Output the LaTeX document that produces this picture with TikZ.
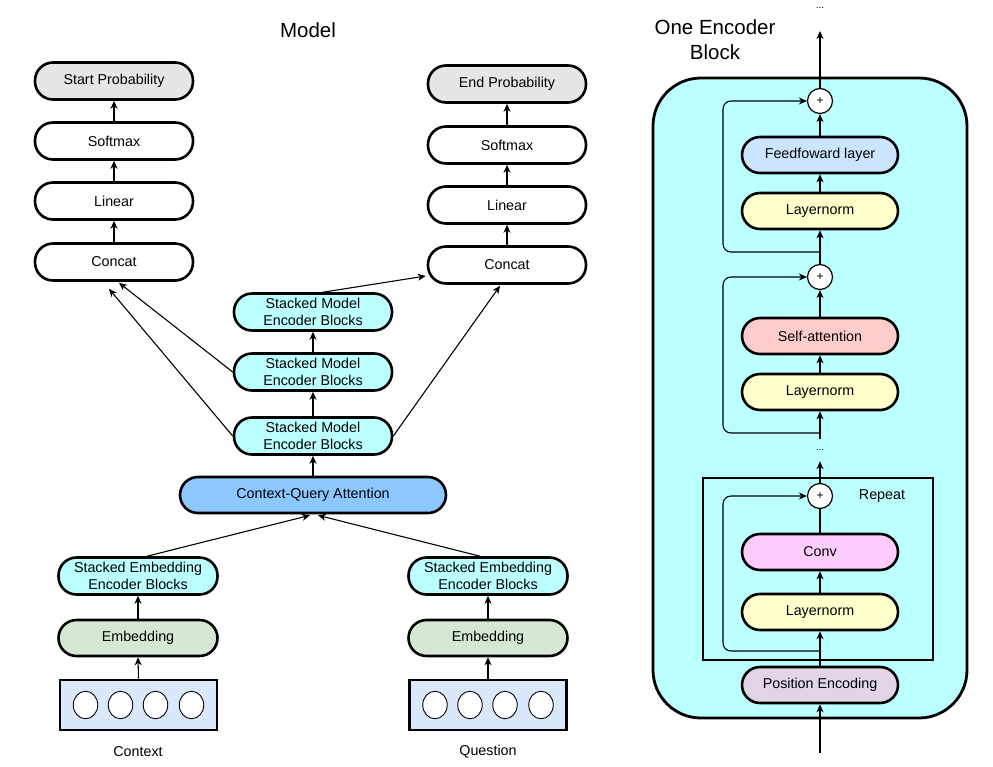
\documentclass[tikz,border=0pt]{standalone}
\usepackage{fontspec}
\setmainfont{Liberation Sans}
\usetikzlibrary{arrows.meta,calc,shapes.geometric}
\definecolor{cyanbg}{RGB}{187,255,255}
\definecolor{cqablue}{RGB}{140,200,255}
\definecolor{embgreen}{RGB}{213,232,212}
\definecolor{inblue}{RGB}{218,232,252}
\definecolor{probgray}{RGB}{230,230,230}
\definecolor{ffblue}{RGB}{204,229,255}
\definecolor{lnyellow}{RGB}{255,255,204}
\definecolor{sared}{RGB}{255,204,204}
\definecolor{convpink}{RGB}{255,204,255}
\definecolor{pelilac}{RGB}{225,213,231}
\begin{document}
\begin{tikzpicture}[x=1pt,y=-1pt,
  box/.style={draw, line width=2.6pt, rounded corners=18pt, minimum width=158pt,
    minimum height=37pt, inner sep=0pt, align=center, fill=white,
    font=\fontsize{14.3}{17}\selectfont},
  rbox/.style={box, minimum width=156pt, minimum height=36pt},
  arr/.style={-{Stealth[length=8pt,width=7pt,inset=2.5pt]}, line width=1.1pt},
  ln/.style={line width=1.1pt},
  plusnode/.style={draw, circle, fill=white, line width=1.2pt, minimum size=25pt,
    inner sep=0pt, font=\fontsize{12}{12}\selectfont},
  inbox/.style={draw, line width=2.6pt, fill=inblue, minimum width=157pt,
    minimum height=50pt, inner sep=0pt},
  tok/.style={draw, ellipse, fill=white, line width=0.9pt, minimum width=24.5pt,
    minimum height=27.5pt, inner sep=0pt},
  lbl/.style={font=\fontsize{14.3}{17}\selectfont, inner sep=0pt},
  ttl/.style={font=\fontsize{20.5}{25}\selectfont, align=center, inner sep=0pt},
  dots/.style={font=\fontsize{10}{10}\selectfont, inner sep=0pt}
]
\useasboundingbox (0,0) rectangle (993,766);

% ---------------- Left: Model ----------------
\node[ttl] (model) at (308,30) {Model};

\node[box, fill=probgray] (startp) at (114,81) {Start Probability};
\node[box] (softL) at (114,141) {Softmax};
\node[box] (linL) at (114,201) {Linear};
\node[box] (catL) at (114,262) {Concat};

\node[box, fill=probgray] (endp) at (507,84) {End Probability};
\node[box] (softR) at (507,145) {Softmax};
\node[box] (linR) at (507,205) {Linear};
\node[box] (catR) at (507,265) {Concat};

\node[box, fill=cyanbg] (smtop) at (313,312) {Stacked Model\\Encoder Blocks};
\node[box, fill=cyanbg] (smmid) at (313,372) {Stacked Model\\Encoder Blocks};
\node[box, fill=cyanbg] (smbot) at (313,436) {Stacked Model\\Encoder Blocks};
\node[box, fill=cqablue, minimum width=266pt, minimum height=36pt] (cqa) at (313,495) {Context-Query Attention};

\node[box, fill=cyanbg, minimum width=159pt] (seeL) at (138,576) {Stacked Embedding\\Encoder Blocks};
\node[box, fill=cyanbg, minimum width=159pt] (seeR) at (488,576) {Stacked Embedding\\Encoder Blocks};
\node[box, fill=embgreen, minimum width=159pt, minimum height=36pt] (embL) at (138,638) {Embedding};
\node[box, fill=embgreen, minimum width=159pt, minimum height=36pt] (embR) at (488,638) {Embedding};

\node[inbox] (inL) at (138.5,705) {};
\node[inbox] (inR) at (488,705) {};
\foreach \i/\dx in {1/-53,2/-18,3/17,4/53}{
  \node[tok] (tL\i) at ($(inL.center)+(\dx,0)$) {};
  \node[tok] (tR\i) at ($(inR.center)+(\dx,0)$) {};
}
\node[lbl] (ctx) at (138,752) {Context};
\node[lbl] (qst) at (488,752) {Question};

% connectors left
\draw[arr] (softL) -- (startp);
\draw[arr] (linL) -- (softL);
\draw[arr] (catL) -- (linL);
\draw[arr] (softR) -- (endp);
\draw[arr] (linR) -- (softR);
\draw[arr] (catR) -- (linR);

\draw[arr] (smmid.west) -- ($(catL.south)+(5,1)$);
\draw[arr] (smbot.west) -- ($(catL.south)+(-5,7)$);
\draw[arr] ($(smtop.north)+(10,0)$) -- ($(catR.west)+(-1,11)$);
\draw[arr] (smbot.east) -- ($(catR.south)+(-7,1)$);

\draw[arr] (smmid) -- (smtop);
\draw[arr] (smbot) -- (smmid);
\draw[arr] (cqa) -- (smbot);

\draw[arr] ($(seeL.north)+(9,0)$) -- ($(cqa.south)+(-3,1)$);
\draw[arr] ($(seeR.north)+(-8,0)$) -- ($(cqa.south)+(5,1)$);

\draw[arr] (embL) -- (seeL);
\draw[arr] (embR) -- (seeR);
\draw[arr] (inL.north) -- (embL.south);
\draw[arr] (inR.north) -- (embR.south);

% ---------------- Right: One Encoder Block ----------------
\node[ttl] (enctitle) at (715,40) {One Encoder\\Block};
\node[draw, line width=2.8pt, fill=cyanbg, rounded corners=48pt, minimum width=314pt,
  minimum height=640pt, inner sep=0pt] (encblock) at (810,398) {};
\node[draw, line width=2pt, minimum width=230pt, minimum height=182pt, inner sep=0pt]
  (repeat) at (818,569) {};
\node[lbl] (replbl) at (882,496) {Repeat};

\node[dots] (dotsT) at (820,8) {...};
\coordinate (topend) at (820,31);

\node[plusnode] (plusA) at (820,101) {+};
\node[rbox, fill=ffblue] (ff) at (820,155) {Feedfoward layer};
\node[rbox, fill=lnyellow] (ln1) at (820,211) {Layernorm};
\node[plusnode] (plusB) at (820,277) {+};
\node[rbox, fill=sared] (sa) at (820,336) {Self-attention};
\node[rbox, fill=lnyellow] (ln2) at (820,392) {Layernorm};
\node[dots, minimum height=22pt] (dotsM) at (820,450) {...};
\node[plusnode] (plusC) at (820,496) {+};
\node[rbox, fill=convpink] (conv) at (820,552) {Conv};
\node[rbox, fill=lnyellow] (ln3) at (820,612) {Layernorm};
\node[rbox, fill=pelilac] (pe) at (820,685) {Position Encoding};
\coordinate (botstart) at (820,753);

\coordinate (sx) at (723,0);
\coordinate (b1) at (820,252);
\coordinate (b2) at (820,433);
\coordinate (b3) at (820,651);

\draw[arr] (plusA.north) -- (topend);
\draw[arr] (ff) -- (plusA);
\draw[arr] (ln1) -- (ff);
\draw[arr] (plusB) -- (ln1);
\draw[arr, rounded corners=8pt] (b1) -| (sx |- plusA) -- (plusA.west);

\draw[arr] (sa) -- (plusB);
\draw[arr] (ln2) -- (sa);
\draw[arr] (dotsM.north) -- (ln2.south);
\draw[arr, rounded corners=8pt] (b2) -| (sx |- plusB) -- (plusB.west);

\draw[arr] (plusC.north) -- (dotsM.south);
\draw[ln] (conv.north) -- (plusC.south);
\draw[arr] (ln3) -- (conv);
\draw[arr] (pe) -- (ln3);
\draw[arr, rounded corners=8pt] (b3) -| (sx |- plusC) -- (plusC.west);
\draw[arr] (botstart) -- (pe.south);
\end{tikzpicture}
\end{document}
